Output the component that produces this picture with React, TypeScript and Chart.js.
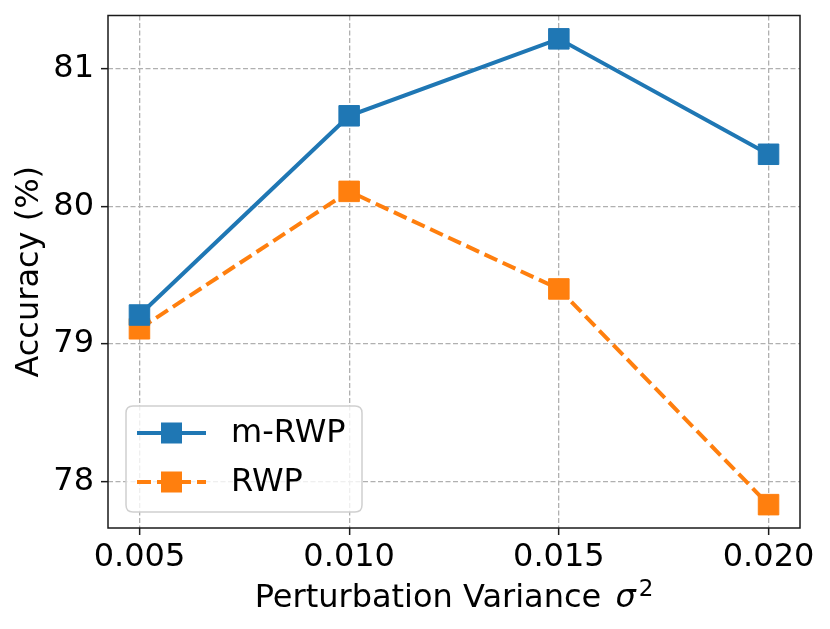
import React, { useEffect, useRef } from "react";
import { Chart, registerables } from "chart.js";

Chart.register(...registerables);

const sigma2 = [0.005, 0.01, 0.015, 0.02];
const mRWP = [79.21, 80.66, 81.22, 80.38];
const RWP = [79.11, 80.11, 79.4, 77.83];
const xTicks = [0.005, 0.01, 0.015, 0.02];
const yTicks = [78, 79, 80, 81];
const xTitleMain = "Perturbation Variance ";
const xTitleSym = "σ";
const xTitleSup = "2";

const FONT = "'DejaVu Sans', sans-serif";

const framePlugin = {
  id: "frame",
  afterDatasetsDraw(chart: any) {
    const { ctx, chartArea: a } = chart;
    ctx.save();
    ctx.strokeStyle = "#1a1a1a";
    ctx.lineWidth = 1.5;
    ctx.strokeRect(a.left, a.top, a.right - a.left, a.bottom - a.top);
    ctx.restore();

    // legend box
    const bx = a.left + 18;
    const by = a.bottom - 122;
    const bw = 236;
    const bh = 106;
    const r = 7;
    ctx.save();
    ctx.beginPath();
    ctx.moveTo(bx + r, by);
    ctx.lineTo(bx + bw - r, by);
    ctx.quadraticCurveTo(bx + bw, by, bx + bw, by + r);
    ctx.lineTo(bx + bw, by + bh - r);
    ctx.quadraticCurveTo(bx + bw, by + bh, bx + bw - r, by + bh);
    ctx.lineTo(bx + r, by + bh);
    ctx.quadraticCurveTo(bx, by + bh, bx, by + bh - r);
    ctx.lineTo(bx, by + r);
    ctx.quadraticCurveTo(bx, by, bx + r, by);
    ctx.closePath();
    ctx.fillStyle = "rgba(255,255,255,0.8)";
    ctx.fill();
    ctx.strokeStyle = "#d0d0d0";
    ctx.lineWidth = 1.5;
    ctx.stroke();

    chart.data.datasets.forEach((ds: any, i: number) => {
      const cy = by + 27 + i * 49;
      const lx0 = bx + 11;
      const lx1 = bx + 80;
      const mx = (lx0 + lx1) / 2;
      ctx.save();
      ctx.strokeStyle = ds.borderColor;
      ctx.lineWidth = ds.borderWidth;
      ctx.setLineDash(ds.borderDash || []);
      ctx.beginPath();
      ctx.moveTo(lx0, cy);
      ctx.lineTo(lx1, cy);
      ctx.stroke();
      ctx.setLineDash([]);
      const s = 21;
      ctx.fillStyle = ds.pointBackgroundColor;
      ctx.fillRect(mx - s / 2, cy - s / 2, s, s);
      ctx.restore();
      ctx.fillStyle = "#000";
      ctx.font = `32px ${FONT}`;
      ctx.textBaseline = "middle";
      ctx.textAlign = "left";
      ctx.fillText(ds.label, bx + 105, cy + 1);
    });
    ctx.restore();
  },
  afterDraw(chart: any) {
    const { ctx, chartArea: a } = chart;
    ctx.save();
    ctx.fillStyle = "#000";
    ctx.textBaseline = "alphabetic";
    ctx.textAlign = "left";
    const mainFont = `32px ${FONT}`;
    const symFont = `italic 32px ${FONT}`;
    const supFont = `23px ${FONT}`;
    ctx.font = mainFont;
    const w1 = ctx.measureText(xTitleMain).width;
    ctx.font = symFont;
    const w2 = ctx.measureText(xTitleSym).width;
    ctx.font = supFont;
    const w3 = ctx.measureText(xTitleSup).width;
    const gap1 = 4;
    const gap2 = 3;
    const total = w1 + gap1 + w2 + gap2 + w3;
    let x = (a.left + a.right) / 2 - total / 2;
    const base = 607;
    ctx.font = mainFont;
    ctx.fillText(xTitleMain, x, base);
    x += w1 + gap1;
    ctx.font = symFont;
    ctx.fillText(xTitleSym, x, base);
    x += w2 + gap2;
    ctx.font = supFont;
    ctx.fillText(xTitleSup, x, base - 11);
    ctx.restore();
  },
};

export default function App() {
  const ref = useRef<HTMLCanvasElement | null>(null);

  useEffect(() => {
    if (!ref.current) return;
    const blue = "#1f77b4";
    const orange = "#ff7f0e";
    const chart = new Chart(ref.current, {
      type: "line",
      data: {
        datasets: [
          {
            label: "m-RWP",
            data: sigma2.map((x, i) => ({ x, y: mRWP[i] })),
            borderColor: blue,
            backgroundColor: blue,
            pointBackgroundColor: blue,
            pointBorderColor: blue,
            borderWidth: 4,
            pointStyle: "rect",
            pointRadius: 14.5,
            pointBorderWidth: 1,
            tension: 0,
          },
          {
            label: "RWP",
            data: sigma2.map((x, i) => ({ x, y: RWP[i] })),
            borderColor: orange,
            backgroundColor: orange,
            pointBackgroundColor: orange,
            pointBorderColor: orange,
            borderWidth: 4,
            borderDash: [14, 6],
            pointStyle: "rect",
            pointRadius: 14.5,
            pointBorderWidth: 1,
            tension: 0,
          },
        ],
      },
      options: {
        animation: false,
        responsive: false,
        maintainAspectRatio: false,
        devicePixelRatio: 1,
        layout: { padding: { left: 0, right: 30, top: 14, bottom: 0 } },
        plugins: {
          legend: { display: false },
          tooltip: { enabled: false },
        },
        scales: {
          x: {
            type: "linear",
            min: 0.00425,
            max: 0.02075,
            afterBuildTicks: (s: any) => {
              s.ticks = xTicks.map((v) => ({ value: v }));
            },
            afterFit: (s: any) => {
              s.height = 101;
              s.paddingLeft = 0;
              s.paddingRight = 0;
              s.paddingTop = 0;
              s.paddingBottom = 0;
            },
            ticks: {
              callback: (v: any) => Number(v).toFixed(3),
              color: "#000",
              font: { family: FONT, size: 32 },
              padding: 3,
              maxRotation: 0,
              autoSkip: false,
            },
            grid: {
              color: "#b0b0b0",
              lineWidth: 1.3,
              tickColor: "#1a1a1a",
              tickWidth: 1.5,
              tickLength: 7,
              tickBorderDash: [],
            },
            border: { display: false, dash: [5, 2.5] },
            title: { display: false },
          },
          y: {
            type: "linear",
            min: 77.66,
            max: 81.39,
            afterBuildTicks: (s: any) => {
              s.ticks = yTicks.map((v) => ({ value: v }));
            },
            afterFit: (s: any) => {
              s.width = 108;
              s.paddingLeft = 0;
              s.paddingRight = 0;
              s.paddingTop = 0;
              s.paddingBottom = 0;
            },
            ticks: {
              callback: (v: any) => String(v),
              color: "#000",
              font: { family: FONT, size: 32 },
              padding: 7,
              autoSkip: false,
            },
            grid: {
              color: "#b0b0b0",
              lineWidth: 1.3,
              tickColor: "#1a1a1a",
              tickWidth: 1.5,
              tickLength: 7,
              tickBorderDash: [],
            },
            border: { display: false, dash: [5, 2.5] },
            title: {
              display: true,
              text: "Accuracy (%)",
              color: "#000",
              font: { family: FONT, size: 32 },
              padding: { top: 10, bottom: 10 },
            },
          },
        },
      },
      plugins: [framePlugin],
    });
    return () => chart.destroy();
  }, []);

  return (
    <div style={{ position: "fixed", left: 0, top: 0, width: 830, height: 629, background: "#fff" }}>
      <canvas ref={ref} width={830} height={629} style={{ width: 830, height: 629, display: "block" }} />
    </div>
  );
}
